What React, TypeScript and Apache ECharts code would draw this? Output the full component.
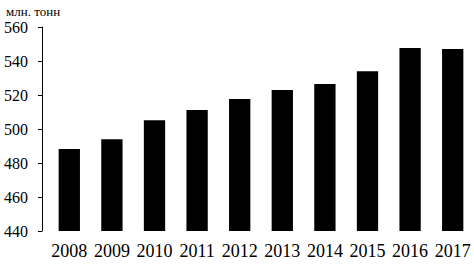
import React, { useEffect, useRef } from "react";
import * as echarts from "echarts";

const years = ["2008", "2009", "2010", "2011", "2012", "2013", "2014", "2015", "2016", "2017"];
const values = [488.2, 494, 505.1, 511.2, 517.6, 523, 526.5, 534, 547.6, 547];
const unitLabel = "млн. тонн";

const FONT = "Liberation Serif";

export default function App() {
  const ref = useRef<HTMLDivElement>(null);
  useEffect(() => {
    if (!ref.current) return;
    const chart = echarts.init(ref.current, undefined, { renderer: "svg" });
    chart.setOption({
      animation: false,
      backgroundColor: "#ffffff",
      textStyle: { fontFamily: FONT },
      grid: { left: 48, right: 0, top: 27, bottom: 33, containLabel: false },
      graphic: [
        {
          type: "text",
          left: 6,
          top: 5,
          style: { text: unitLabel, fontFamily: FONT, fontSize: 13, fill: "#000" },
        },
      ],
      xAxis: {
        type: "category",
        data: years,
        axisLine: { show: false },
        axisTick: { show: false },
        axisLabel: { color: "#000", fontFamily: FONT, fontSize: 18, margin: 11, interval: 0 },
      },
      yAxis: {
        type: "value",
        min: 440,
        max: 560,
        interval: 20,
        offset: 6,
        axisLine: { show: true, lineStyle: { color: "#000", width: 1 } },
        axisTick: { show: true, length: 4, lineStyle: { color: "#000" } },
        splitLine: { show: false },
        axisLabel: { color: "#000", fontFamily: FONT, fontSize: 16, margin: 14 },
      },
      series: [
        {
          type: "bar",
          data: values,
          barWidth: "50%",
          itemStyle: { color: "#000" },
        },
      ],
    });
    return () => chart.dispose();
  }, []);
  return (
    <div
      ref={ref}
      style={{ position: "absolute", left: 0, top: 0, width: 474, height: 264 }}
    />
  );
}
